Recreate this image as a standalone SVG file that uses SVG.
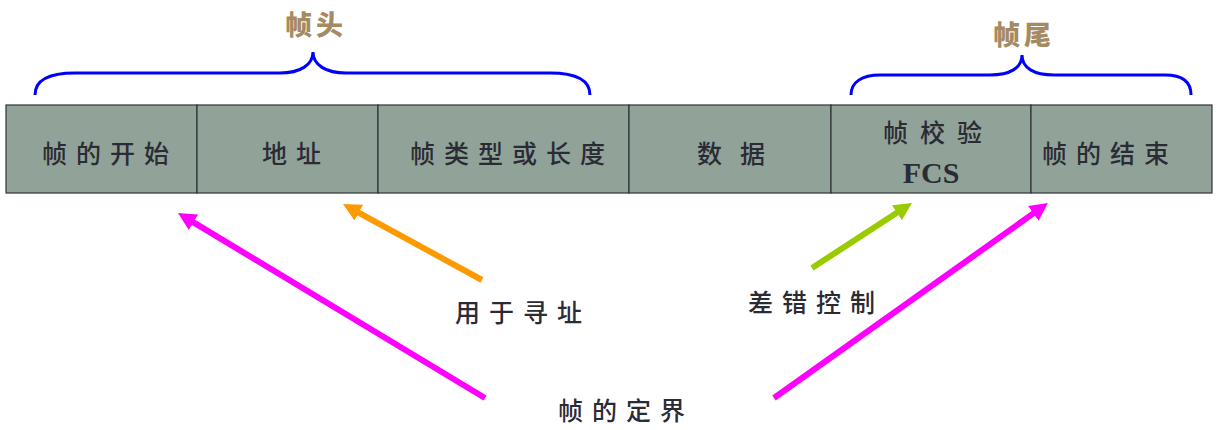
<svg xmlns="http://www.w3.org/2000/svg" width="1223" height="430" viewBox="0 0 1223 430">
<style>
.cell{fill:#91A398;stroke:#2F3336;stroke-width:1.2}
.t{font-family:"Noto Sans CJK SC","Noto Sans CJK JP",sans-serif;font-size:25px;font-weight:500;fill:#2B2B36;letter-spacing:9px}
.lbl{font-family:"Noto Sans CJK SC","Noto Sans CJK JP",sans-serif;font-size:25px;font-weight:500;fill:#2B2B36;letter-spacing:9px}
.hd{font-family:"Noto Sans CJK SC",sans-serif;font-size:27px;font-weight:900;fill:#A58A64;letter-spacing:4px}
.brace{fill:none;stroke:#0000FF;stroke-width:3}
.arr{stroke-width:6;fill:none}
</style>
<defs>
<marker id="hm" viewBox="0 0 10 10" refX="1" refY="5" markerWidth="3" markerHeight="3" orient="auto"><path d="M0,0 L10,5 L0,10 z" fill="#FF00FF"/></marker>
<marker id="ho" viewBox="0 0 10 10" refX="1" refY="5" markerWidth="3" markerHeight="3" orient="auto"><path d="M0,0 L10,5 L0,10 z" fill="#FF9900"/></marker>
<marker id="hg" viewBox="0 0 10 10" refX="1" refY="5" markerWidth="3" markerHeight="3" orient="auto"><path d="M0,0 L10,5 L0,10 z" fill="#99CC00"/></marker>
</defs>
<rect width="1223" height="430" fill="#FFFFFF"/>
<g id="header">
<path class="brace" d="M35,95 C35,80 50,73 75,73 L280,73 C300,73 313,65 313,52 C313,65 326,73 346,73 L550,73 C575,73 590,80 590,95"/>
<text class="hd" x="285" y="35">帧头</text>
</g>
<g id="trailer">
<path class="brace" d="M851,95 C851,82 862,75 880,75 L990,75 C1010,75 1022,68 1022,55 C1022,68 1034,75 1054,75 L1165,75 C1183,75 1191,82 1191,95"/>
<text class="hd" x="993" y="45">帧尾</text>
</g>
<g id="start"><rect class="cell" x="6" y="105" width="191" height="88"/><text class="t" x="42" y="163">帧的开始</text></g>
<g id="addr"><rect class="cell" x="197" y="105" width="181" height="88"/><text class="t" x="262" y="163">地址</text></g>
<g id="type"><rect class="cell" x="378" y="105" width="251" height="88"/><text class="t" x="410" y="163">帧类型或长度</text></g>
<g id="data"><rect class="cell" x="629" y="105" width="202" height="88"/><text class="t" x="697" y="163" style="letter-spacing:18px">数据</text></g>
<g id="fcs"><rect class="cell" x="831" y="105" width="200" height="88"/><text class="t" x="883" y="142" style="letter-spacing:12px">帧校验</text><text x="931" y="183" font-family="Liberation Serif,serif" font-size="30" font-weight="bold" fill="#2B2B36" text-anchor="middle">FCS</text></g>
<g id="end"><rect class="cell" x="1031" y="105" width="181" height="88"/><text class="t" x="1042" y="163">帧的结束</text></g>
<g id="connectors">
<line class="arr" stroke="#FF00FF" x1="485" y1="398" x2="191.9" y2="221.4" marker-end="url(#hm)"/>
<line class="arr" stroke="#FF9900" x1="482" y1="280" x2="357.2" y2="211.8" marker-end="url(#ho)"/>
<line class="arr" stroke="#99CC00" x1="812" y1="268" x2="898.4" y2="211.8" marker-end="url(#hg)"/>
<line class="arr" stroke="#FF00FF" x1="774" y1="398" x2="1034.8" y2="212.4" marker-end="url(#hm)"/>
</g>
<g id="labels">
<text class="lbl" x="455" y="322">用于寻址</text>
<text class="lbl" x="748" y="312">差错控制</text>
<text class="lbl" x="558" y="420">帧的定界</text>
</g>
</svg>
